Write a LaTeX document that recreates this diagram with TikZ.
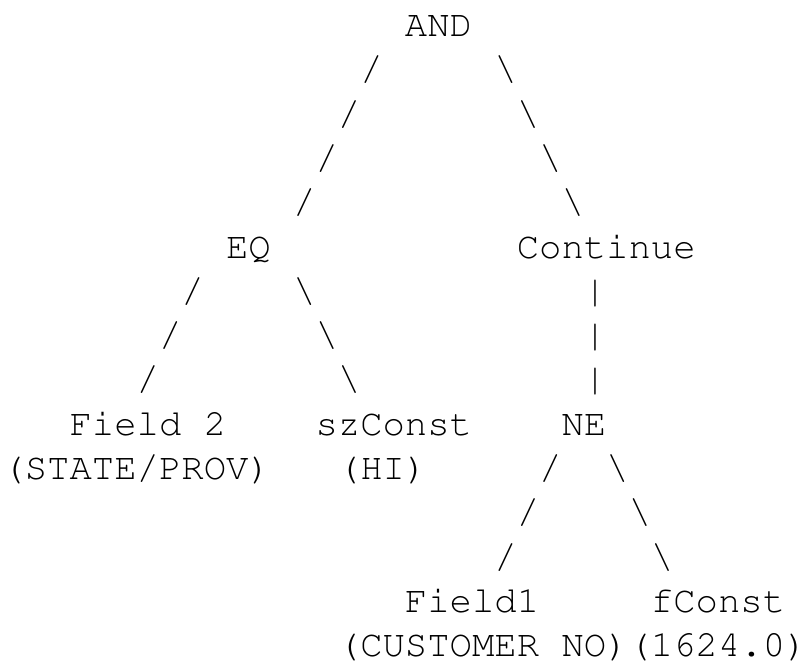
\documentclass[tikz,border=0pt]{standalone}
\usepackage[T1]{fontenc}
\begin{document}
\begin{tikzpicture}[
  txt/.style={anchor=base west, inner sep=0pt, outer sep=0pt,
    font=\fontencoding{T1}\fontfamily{pcr}\fontseries{m}\fontshape{n}\fontsize{37.27bp}{44.3bp}\selectfont}
]
\useasboundingbox[fill=white] (0,0) rectangle (807bp,-664bp);
\begin{scope}[shift={(2.5bp,-36.5bp)}, x=22.36bp, y=-44.3bp]
  % labels (column, row)
  \node[txt] (andn)    at (18,0)  {AND};
  \node[txt] (eq)      at (10,5)  {EQ};
  \node[txt] (cont)    at (23,5)  {Continue};
  \node[txt] (field2)  at (3,9)   {Field 2};
  \node[txt] (szconst) at (14,9)  {szConst};
  \node[txt] (ne)      at (25,9)  {NE};
  \node[txt] (state)   at (0,10)  {(STATE/PROV)};
  \node[txt] (hi)      at (15,10) {(HI)};
  \node[txt] (field1)  at (18,13) {Field1};
  \node[txt] (fconst)  at (29,13) {fConst};
  \node[txt] (cust)    at (15,14) {(CUSTOMER NO)(1624.0)};
  % ASCII connectors
  \foreach \c/\r [count=\i] in {16/1,15/2,14/3,13/4,8/6,7/7,6/8,24/10,23/11,22/12}
    \node[txt] (sl\i) at (\c,\r) {/};
  \foreach \c/\r [count=\i] in {22/1,23/2,24/3,25/4,13/6,14/7,15/8,27/10,28/11,29/12}
    \node[txt] (bs\i) at (\c,\r) {\textbackslash};
  \foreach \r [count=\i] in {6,7,8}
    \node[txt] (vb\i) at (26,\r) {\textbar};
\end{scope}
\end{tikzpicture}
\end{document}
